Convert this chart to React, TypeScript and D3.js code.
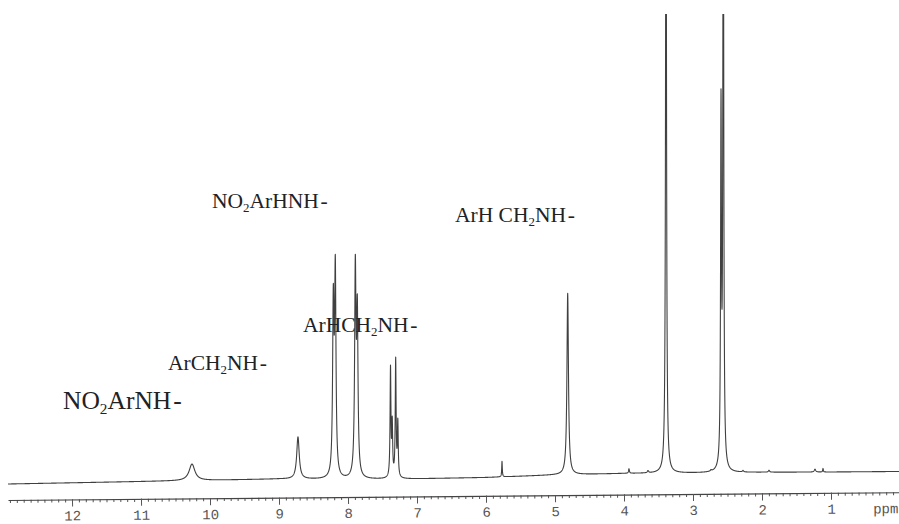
import React, { useEffect, useMemo, useRef } from 'react';
import * as d3 from 'd3';

const W = 899;
const H = 524;

// 1H NMR resonances: chemical shift (ppm), height (intensity units), half width (ppm)
const peakPpm = [10.261, 8.725, 8.213, 8.184, 7.894, 7.865, 7.384, 7.359, 7.309, 7.278, 5.768, 4.816, 3.928, 3.652, 3.391, 2.739, 2.594, 2.561, 2.275, 1.899, 1.232, 1.116];
const peakHeight = [3.47, 8.82, 35.2, 42.3, 42.7, 32.9, 22.8, 10.8, 24.6, 11.3, 3.26, 38.1, 0.95, 0.45, 147, 0.25, 74, 147, 0.3, 0.4, 0.6, 0.75];
const peakWidth = [0.05, 0.022, 0.0116, 0.0116, 0.0116, 0.0116, 0.00725, 0.00725, 0.00725, 0.00725, 0.005, 0.013, 0.007, 0.01, 0.008, 0.01, 0.00725, 0.00725, 0.01, 0.01, 0.012, 0.005];

// Baseline drift of the recorded trace
const baselinePpm = [12.93, 10.6, 9.0, 8.0, 7.0, 6.0, 5.0, 4.0, 3.0, 2.0, 1.0, 0.0];
const baselineLevel = [1.26, 1.89, 2.31, 2.21, 2.35, 2.63, 3.15, 3.47, 3.57, 3.72, 3.78, 3.89];

// Axis
const majorTicks = [12, 11, 10, 9, 8, 7, 6, 5, 4, 3, 2, 1];
const minorTicks = d3.range(0, 130).map((i) => i / 10);
const axisUnit = 'ppm';

// Group assignments; each entry is [text, isSubscript]
const assignments: [string, boolean][][] = [
  [['NO', false], ['2', true], ['ArHNH', false]],
  [['ArH CH', false], ['2', true], ['NH', false]],
  [['ArHCH', false], ['2', true], ['NH', false]],
  [['ArCH', false], ['2', true], ['NH', false]],
  [['NO', false], ['2', true], ['ArNH', false]],
];

// Placement of the assignment labels
const labelLayout = [
  { x: 212, y: 208, size: 21.5 },
  { x: 455, y: 222, size: 21.5 },
  { x: 303, y: 332, size: 21.5 },
  { x: 168, y: 370, size: 21.5 },
  { x: 63, y: 409, size: 25.5 },
];

const LEFT = 8;
const TOP = 14;
const AXIS_Y = 500;

export default function App() {
  const axisRef = useRef<SVGGElement>(null);

  const xScale = useMemo(() => d3.scaleLinear().domain([12, 1]).range([72, 831]), []);
  const yScale = useMemo(() => d3.scaleLinear().domain([0, 100]).range([490, TOP]), []);
  const baseline = useMemo(
    () => d3.scaleLinear().domain(baselinePpm).range(baselineLevel).clamp(true),
    []
  );

  const spectrumPath = useMemo(() => {
    const hi = xScale.invert(LEFT);
    const lo = xScale.invert(W);
    const step = (hi - lo) / ((W - LEFT) * 10);
    const pts: { ppm: number; v: number }[] = [];
    for (let p = hi; p >= lo; p -= step) {
      let v = baseline(p);
      for (let i = 0; i < peakPpm.length; i++) {
        const d = (p - peakPpm[i]) / peakWidth[i];
        v += peakHeight[i] / (1 + d * d);
      }
      pts.push({ ppm: p, v });
    }
    return d3
      .line<{ ppm: number; v: number }>()
      .x((d) => xScale(d.ppm))
      .y((d) => yScale(d.v))(pts);
  }, [xScale, yScale, baseline]);

  useEffect(() => {
    if (!axisRef.current) return;
    const g = d3.select(axisRef.current);
    g.selectAll('*').remove();
    const axisScale = xScale.copy().domain([xScale.invert(LEFT), xScale.invert(W)]).range([LEFT, W]);

    const minor = g.append('g').call(
      d3
        .axisBottom(axisScale)
        .tickValues(minorTicks.filter((t) => t <= axisScale.domain()[0] && t >= axisScale.domain()[1]))
        .tickSize(3)
        .tickSizeOuter(0)
        .tickFormat(() => '')
    );
    minor.select('.domain').remove();

    const major = g.append('g').call(
      d3
        .axisBottom(axisScale)
        .tickValues(majorTicks)
        .tickSize(7)
        .tickPadding(4)
        .tickSizeOuter(0)
        .tickFormat(d3.format('d'))
    );
    g.selectAll('line').attr('stroke', '#555').attr('stroke-width', 1);
    major.select('.domain').attr('stroke', '#444').attr('stroke-width', 1.1);
    major
      .selectAll('text')
      .attr('font-family', '"Liberation Mono", monospace')
      .attr('font-size', 14)
      .attr('fill', '#555');
    major.attr('font-size', null).attr('font-family', null);

    g.append('text')
      .attr('x', 873)
      .attr('y', 11)
      .attr('dy', '0.71em')
      .attr('font-family', '"Liberation Mono", monospace')
      .attr('font-size', 14)
      .attr('fill', '#555')
      .text(axisUnit);
  }, [xScale]);

  return (
    <svg
      width={W}
      height={H}
      style={{ position: 'absolute', left: 0, top: 0, background: '#fff' }}
    >
      <defs>
        <clipPath id="plot-clip">
          <rect x={LEFT} y={TOP} width={W - LEFT} height={H - TOP} />
        </clipPath>
      </defs>
      <path
        d={spectrumPath || ''}
        fill="none"
        stroke="#404040"
        strokeWidth={1.1}
        strokeLinejoin="round"
        clipPath="url(#plot-clip)"
      />
      <g ref={axisRef} transform={`rotate(-0.5 ${LEFT} ${AXIS_Y}) translate(0 ${AXIS_Y})`} />
      {assignments.map((parts, i) => {
        const L = labelLayout[i];
        const sub = L.size * 0.2;
        let shifted = false;
        return (
          <text
            key={i}
            x={L.x}
            y={L.y}
            fontFamily='"Liberation Serif", "Times New Roman", serif'
            fontSize={L.size}
            fill="#222"
          >
            {parts.map(([t, isSub], j) => {
              let dy = 0;
              if (isSub && !shifted) {
                dy = sub;
                shifted = true;
              } else if (!isSub && shifted) {
                dy = -sub;
                shifted = false;
              }
              return (
                <tspan key={j} dy={dy || undefined} fontSize={isSub ? L.size * 0.6 : undefined}>
                  {t}
                </tspan>
              );
            })}
            <tspan dx={L.size * 0.08}>-</tspan>
          </text>
        );
      })}
    </svg>
  );
}
